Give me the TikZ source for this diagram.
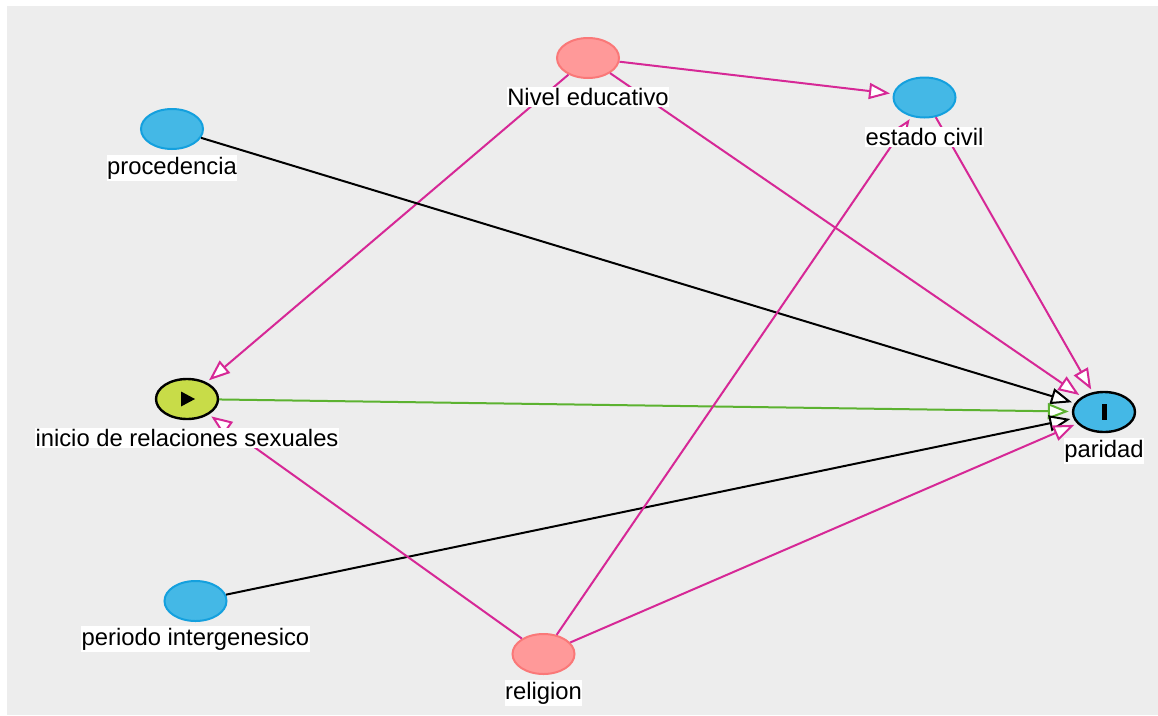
\documentclass[tikz,border=0pt]{standalone}
\usepackage{fontspec}
\setmainfont{Liberation Sans}
\usetikzlibrary{arrows.meta,shapes.geometric}
\definecolor{bg}{RGB}{237,237,237}
\definecolor{pinkline}{RGB}{214,40,150}
\definecolor{greenline}{RGB}{92,178,48}
\definecolor{bluefill}{RGB}{68,184,230}
\definecolor{blueborder}{RGB}{20,160,222}
\definecolor{redfill}{RGB}{255,153,153}
\definecolor{redborder}{RGB}{250,120,120}
\definecolor{expfill}{RGB}{200,220,72}
\tikzset{
  var/.style={ellipse, minimum width=62pt, minimum height=40pt, inner sep=0pt, line width=2pt},
  bluenode/.style={var, fill=bluefill, draw=blueborder},
  rednode/.style={var, fill=redfill, draw=redborder},
  expnode/.style={var, fill=expfill, draw=black, line width=2.4pt},
  outnode/.style={var, fill=bluefill, draw=black, line width=2.4pt},
  lbl/.style={fill=white, inner xsep=0.5pt, inner ysep=1.5pt, font=\fontsize{23.8}{26}\selectfont, text=black},
  edge/.style={line width=2pt, shorten >=3pt, -{Triangle[length=21pt, width=16pt, fill=white]}},
  pinkedge/.style={edge, draw=pinkline},
  blackedge/.style={edge, draw=black},
  greenedge/.style={edge, draw=greenline},
}
\begin{document}
\begin{tikzpicture}[x=1pt,y=-1pt]
\useasboundingbox (0,0) rectangle (1158,715);
\fill[bg] (7,6) rectangle (1158,715);
% nodes
\node[rednode] (niv) at (588,58) {};
\node[bluenode] (est) at (924.5,97.5) {};
\node[bluenode] (pro) at (172,129) {};
\node[expnode] (ini) at (187,399) {};
\node[outnode] (par) at (1104,412) {};
\node[bluenode] (per) at (195.5,601) {};
\node[rednode] (rel) at (543.5,654) {};
% edges
\draw[pinkedge] (niv) -- (est);
\draw[pinkedge] (niv) -- (ini);
\draw[pinkedge] (niv) -- (par);
\draw[pinkedge] (est) -- (par);
\draw[blackedge] (pro) -- (par);
\draw[greenedge] (ini) -- (par);
\draw[blackedge] (per) -- (par);
\draw[pinkedge] (rel) -- (ini);
\draw[pinkedge] (rel) -- (est);
\draw[pinkedge] (rel) -- (par);
% symbols
\fill[black] ([shift={(-6,-7.5)}]ini.center) -- ([shift={(-6,7.5)}]ini.center) -- ([shift={(8,0)}]ini.center) -- cycle;
\fill[black] ([shift={(-2.5,-8)}]par.center) rectangle ([shift={(2.5,8)}]par.center);
% labels
\node[lbl] (lniv) at (588,97) {Nivel educativo};
\node[lbl] (lest) at (924.5,137) {estado civil};
\node[lbl] (lpro) at (172,168) {procedencia};
\node[lbl] (lini) at (187,438) {inicio de relaciones sexuales};
\node[lbl] (lpar) at (1104,451) {paridad};
\node[lbl] (lper) at (195.5,639) {periodo intergenesico};
\node[lbl] (lrel) at (543.5,693) {religion};
\end{tikzpicture}
\end{document}
